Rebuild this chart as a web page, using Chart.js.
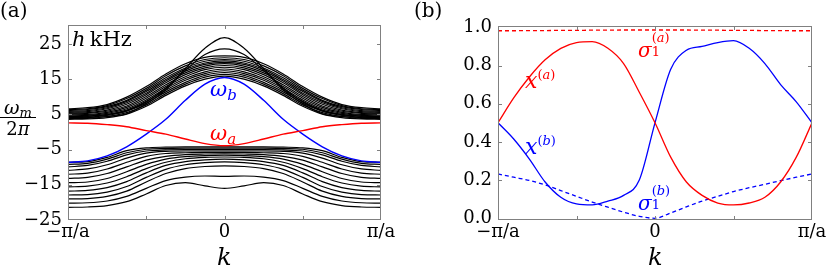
<!DOCTYPE html>
<html><head><meta charset="utf-8">
<script src="https://cdn.jsdelivr.net/npm/chart.js@4.4.1/dist/chart.umd.min.js"></script>
<style>
body{margin:0;width:830px;height:271px;background:#fff;position:relative;overflow:hidden;font-family:"DejaVu Serif",serif;color:#000;}
canvas{position:absolute;top:0;}
.t{position:absolute;white-space:nowrap;line-height:1;}
.i{font-style:italic;}
</style></head><body>
<canvas id="ca" width="400" height="271" style="left:0"></canvas>
<canvas id="cb" width="410" height="271" style="left:420px"></canvas>

<div class="t" style="left:0;top:0;font-size:20px">(a)</div>
<div class="t" style="left:414px;top:0;font-size:20px">(b)</div>
<div class="t" style="left:72px;top:29px;font-size:21px"><span class="i">h</span>&thinsp;kHz</div>
<div class="t" style="left:0;top:98px;width:36px;text-align:center">
  <div style="font-size:19px;height:18px"><span class="i">ω</span><span class="i" style="font-size:13px;position:relative;top:3px">m</span></div>
  <div style="border-top:1.2px solid #000;margin-top:1px;padding-top:2px;font-size:18px">2<span class="i">π</span></div>
</div>
<div class="t" style="left:210px;top:79px;font-size:21px;color:#0000ff"><span class="i">ω</span><span class="i" style="font-size:15px;position:relative;top:4px">b</span></div>
<div class="t" style="left:210px;top:123px;font-size:21px;color:#ff0000"><span class="i">ω</span><span class="i" style="font-size:15px;position:relative;top:4px">a</span></div>
<div class="t" style="left:217px;top:245px;font-size:24px"><span class="i">k</span></div>
<div class="t" style="left:648px;top:245px;font-size:24px"><span class="i">k</span></div>

<div class="t" style="left:638px;top:31px;color:#ff0000"><span class="i" style="font-size:20px;position:relative;top:9px">σ</span><span style="display:inline-block;vertical-align:top;font-size:13px;line-height:1.0;margin-left:0px"><span style="display:block">(<span class="i">a</span>)</span><span style="display:block;margin-top:1px">1</span></span></div>
<div class="t" style="left:525px;top:64px;color:#ff0000"><span class="i" style="font-size:22px;position:relative;top:6px">x</span><span style="font-size:13px;position:relative;top:-3px">(<span class="i">a</span>)</span></div>
<div class="t" style="left:525px;top:130px;color:#0000ff"><span class="i" style="font-size:22px;position:relative;top:6px">x</span><span style="font-size:13px;position:relative;top:-3px">(<span class="i">b</span>)</span></div>
<div class="t" style="left:638px;top:184px;color:#0000ff"><span class="i" style="font-size:20px;position:relative;top:9px">σ</span><span style="display:inline-block;vertical-align:top;font-size:13px;line-height:1.0;margin-left:0px"><span style="display:block">(<span class="i">b</span>)</span><span style="display:block;margin-top:1px">1</span></span></div>

<script>
// ---------- Panel (a): band structure, h kHz ----------
const kGrid = [-1,-0.875,-0.75,-0.625,-0.5,-0.375,-0.25,-0.125,0,0.125,0.25,0.375,0.5,0.625,0.75,0.875,1];
const omegaA = [2.6,2.5,2.1,1.5,0.4,-0.6,-2.0,-3.3,-3.9,-3.3,-2.0,-0.6,0.4,1.5,2.1,2.5,2.6];
const omegaB = [-8.6,-8.2,-6.8,-4.2,-0.6,3.6,9.0,13.6,15.5,13.6,9.0,3.6,-0.6,-4.2,-6.8,-8.2,-8.6];
const upperBands = [
  [3.6,3.7,4.1,5.1,7.3,10.4,13.1,15.0,15.9,15.0,13.1,10.4,7.3,5.1,4.1,3.7,3.6],
  [3.85,3.9,4.4,5.5,7.7,10.9,13.6,15.6,16.4,15.6,13.6,10.9,7.7,5.5,4.4,3.9,3.85],
  [4.1,4.2,4.7,5.9,8.2,11.4,14.1,16.1,16.9,16.1,14.1,11.4,8.2,5.9,4.7,4.2,4.1],
  [4.35,4.5,5.0,6.2,8.7,11.9,14.7,16.6,17.4,16.6,14.7,11.9,8.7,6.2,5.0,4.5,4.35],
  [4.6,4.7,5.3,6.6,9.1,12.4,15.2,17.1,17.9,17.1,15.2,12.4,9.1,6.6,5.3,4.7,4.6],
  [4.85,5.0,5.6,7.0,9.6,12.9,15.7,17.7,18.4,17.7,15.7,12.9,9.6,7.0,5.6,5.0,4.85],
  [5.1,5.3,5.9,7.4,10.1,13.4,16.3,18.2,18.9,18.2,16.3,13.4,10.1,7.4,5.9,5.3,5.1],
  [5.35,5.5,6.2,7.9,10.6,14.0,16.8,18.7,19.4,18.7,16.8,14.0,10.6,7.9,6.2,5.5,5.35],
  [5.6,5.8,6.6,8.3,11.0,14.5,17.3,19.2,19.8,19.2,17.3,14.5,11.0,8.3,6.6,5.8,5.6],
  [5.85,6.1,6.9,8.7,11.5,14.9,17.8,19.6,20.2,19.6,17.8,14.9,11.5,8.7,6.9,6.1,5.85],
  [6.1,6.4,7.2,9.0,11.9,15.4,18.2,20.1,20.6,20.1,18.2,15.4,11.9,9.0,7.2,6.4,6.1],
  [6.35,6.6,7.5,9.5,12.4,16.0,18.8,20.6,21.1,20.6,18.8,16.0,12.4,9.5,7.5,6.6,6.35],
  [6.6,6.9,7.8,9.9,12.9,16.5,19.4,21.2,21.6,21.2,19.4,16.5,12.9,9.9,7.8,6.9,6.6],
  [4.0,4.1,4.4,5.2,8.0,12.0,18.0,23.8,26.8,23.8,18.0,12.0,8.0,5.2,4.4,4.1,4.0],
  [4.3,4.4,4.9,6.0,8.5,12.5,17.5,22.0,23.6,22.0,17.5,12.5,8.5,6.0,4.9,4.4,4.3]
];
const lowerBands = [
  [-8.6,-8.4,-7.2,-5.3,-4.5,-4.3,-4.2,-4.2,-4.2,-4.2,-4.2,-4.3,-4.5,-5.3,-7.2,-8.4,-8.6],
  [-9.2,-8.9,-7.7,-5.9,-4.9,-4.7,-4.6,-4.6,-4.6,-4.6,-4.6,-4.7,-4.9,-5.9,-7.7,-8.9,-9.2],
  [-9.9,-9.5,-8.3,-6.5,-5.4,-5.1,-5.0,-5.0,-5.0,-5.0,-5.0,-5.1,-5.4,-6.5,-8.3,-9.5,-9.9],
  [-10.9,-10.5,-9.3,-7.4,-6.0,-5.5,-5.4,-5.4,-5.4,-5.4,-5.4,-5.5,-6.0,-7.4,-9.3,-10.5,-10.9],
  [-12.0,-11.7,-10.5,-8.6,-6.9,-6.1,-5.9,-5.8,-5.8,-5.8,-5.9,-6.1,-6.9,-8.6,-10.5,-11.7,-12.0],
  [-13.2,-12.9,-11.8,-9.9,-8.0,-6.9,-6.4,-6.25,-6.2,-6.25,-6.4,-6.9,-8.0,-9.9,-11.8,-12.9,-13.2],
  [-14.4,-14.2,-13.2,-11.3,-9.2,-7.7,-7.0,-6.7,-6.6,-6.7,-7.0,-7.7,-9.2,-11.3,-13.2,-14.2,-14.4],
  [-15.6,-15.4,-14.5,-12.7,-10.4,-8.6,-7.6,-7.2,-7.1,-7.2,-7.6,-8.6,-10.4,-12.7,-14.5,-15.4,-15.6],
  [-16.8,-16.6,-15.8,-14.1,-11.6,-9.5,-8.4,-7.9,-7.7,-7.9,-8.4,-9.5,-11.6,-14.1,-15.8,-16.6,-16.8],
  [-17.9,-17.8,-17.1,-15.5,-12.9,-10.6,-9.3,-8.7,-8.5,-8.7,-9.3,-10.6,-12.9,-15.5,-17.1,-17.8,-17.9],
  [-19.0,-18.9,-18.3,-16.8,-14.2,-11.8,-10.4,-9.8,-9.6,-9.8,-10.4,-11.8,-14.2,-16.8,-18.3,-18.9,-19.0],
  [-20.2,-20.1,-19.6,-18.3,-16.0,-13.8,-12.8,-12.5,-12.6,-12.5,-12.8,-13.8,-16.0,-18.3,-19.6,-20.1,-20.2],
  [-21.4,-21.3,-20.9,-19.8,-17.6,-15.2,-14.4,-15.3,-16.0,-15.3,-14.4,-15.2,-17.6,-19.8,-20.9,-21.3,-21.4]
];
const omegaTicks = [-25,-15,-5,5,15,25];

// ---------- Panel (b): weights ----------
const kFine = [-1,-0.9,-0.8,-0.7,-0.6,-0.5,-0.4,-0.3,-0.2,-0.1,0,0.1,0.2,0.3,0.4,0.5,0.6,0.7,0.8,0.9,1];
const xA = [0.50,0.63,0.74,0.83,0.89,0.92,0.925,0.89,0.81,0.66,0.50,0.32,0.19,0.12,0.08,0.07,0.08,0.11,0.19,0.32,0.50];
const xB = [0.50,0.415,0.31,0.19,0.11,0.075,0.07,0.09,0.12,0.20,0.50,0.78,0.88,0.90,0.92,0.93,0.89,0.81,0.70,0.61,0.50];
const sigmaA = [0.982,0.982,0.983,0.983,0.984,0.984,0.985,0.985,0.986,0.986,0.986,0.986,0.986,0.985,0.985,0.984,0.984,0.983,0.983,0.982,0.982];
const sigmaB = [0.232,0.215,0.198,0.175,0.145,0.115,0.085,0.058,0.032,0.010,0.0,0.028,0.060,0.090,0.115,0.140,0.160,0.178,0.197,0.215,0.232];
const weightTicks = [0,0.2,0.4,0.6,0.8,1.0];

const kTickValues = [-1,-0.5,0,0.5,1];
const kTickLabels = ['−π/a','','0','','π/a'];

function pts(xs, ys){ return xs.map((x,i)=>({x:x, y:ys[i]})); }
const FONT = {family:'DejaVu Serif', size:18};
const frameColor = '#808080';

const framePlugin = {
  id:'frame',
  afterDatasetsDraw(chart){
    const {ctx, chartArea:a, scales} = chart;
    ctx.save();
    ctx.strokeStyle = frameColor; ctx.lineWidth = 1;
    const L = 4;
    ctx.beginPath();
    scales.x.ticks.forEach(t=>{
      const x = Math.round(scales.x.getPixelForValue(t.value))+0.5;
      if (x > a.left+2 && x < a.right-2){ ctx.moveTo(x,a.bottom); ctx.lineTo(x,a.bottom-L); ctx.moveTo(x,a.top); ctx.lineTo(x,a.top+L); }
    });
    scales.y.ticks.forEach(t=>{
      const y = Math.round(scales.y.getPixelForValue(t.value))+0.5;
      if (y > a.top+2 && y < a.bottom-2){ ctx.moveTo(a.left,y); ctx.lineTo(a.left+L,y); ctx.moveTo(a.right,y); ctx.lineTo(a.right-L,y); }
    });
    ctx.stroke();
    ctx.strokeRect(Math.round(a.left)+0.5, Math.round(a.top)+0.5, Math.round(a.right-a.left)-1, Math.round(a.bottom-a.top)-1);
    ctx.restore();
  }
};

function xScale(){
  return {
    type:'linear', min:-1, max:1,
    grid:{display:false, drawTicks:false}, border:{display:false},
    afterBuildTicks: s => { s.ticks = kTickValues.map(v=>({value:v})); },
    afterFit: s => { s.height = 51; },
    ticks:{ font:FONT, color:'#000', padding:2, maxRotation:0, autoSkip:false,
      callback:(v,i)=>kTickLabels[i] }
  };
}
function baseOpts(){
  return { responsive:false, animation:false, events:[],
    plugins:{legend:{display:false}, tooltip:{enabled:false}},
    elements:{point:{radius:0}, line:{fill:false, cubicInterpolationMode:'monotone'}} };
}

const dsA = [
  {data:pts(kGrid, omegaA), borderColor:'#ff0000', borderWidth:1.4},
  {data:pts(kGrid, omegaB), borderColor:'#0000ff', borderWidth:1.4},
  ...upperBands.map(b=>({data:pts(kGrid,b), borderColor:'#000000', borderWidth:1.2})),
  ...lowerBands.map(b=>({data:pts(kGrid,b), borderColor:'#000000', borderWidth:1.2}))
];
const optA = baseOpts();
optA.layout = {padding:{left:0, right:19, top:25, bottom:0}};
optA.scales = {
  x: xScale(),
  y: { type:'linear', min:-25, max:30.4,
    grid:{display:false, drawTicks:false}, border:{display:false},
    afterBuildTicks: s => { s.ticks = omegaTicks.map(v=>({value:v})); },
    afterFit: s => { s.width = 68; },
    ticks:{ font:FONT, color:'#000', padding:6, callback:v => (v<0?'−':'')+Math.abs(v) } }
};
new Chart(document.getElementById('ca'), {type:'line', data:{datasets:dsA}, options:optA, plugins:[framePlugin]});

const dsB = [
  {data:pts(kFine, xA), borderColor:'#ff0000', borderWidth:1.3},
  {data:pts(kFine, xB), borderColor:'#0000ff', borderWidth:1.3},
  {data:pts(kFine, sigmaA), borderColor:'#ff0000', borderWidth:1.3, borderDash:[4,3]},
  {data:pts(kFine, sigmaB), borderColor:'#0000ff', borderWidth:1.3, borderDash:[4,3]}
];
const optB = baseOpts();
optB.layout = {padding:{left:0, right:18, top:26, bottom:0}};
optB.scales = {
  x: xScale(),
  y: { type:'linear', min:-0.009, max:1.007,
    grid:{display:false, drawTicks:false}, border:{display:false},
    afterBuildTicks: s => { s.ticks = weightTicks.map(v=>({value:v})); },
    afterFit: s => { s.width = 78; },
    ticks:{ font:FONT, color:'#000', padding:6, callback:v => v.toFixed(1) } }
};
new Chart(document.getElementById('cb'), {type:'line', data:{datasets:dsB}, options:optB, plugins:[framePlugin]});
</script>
</body></html>
